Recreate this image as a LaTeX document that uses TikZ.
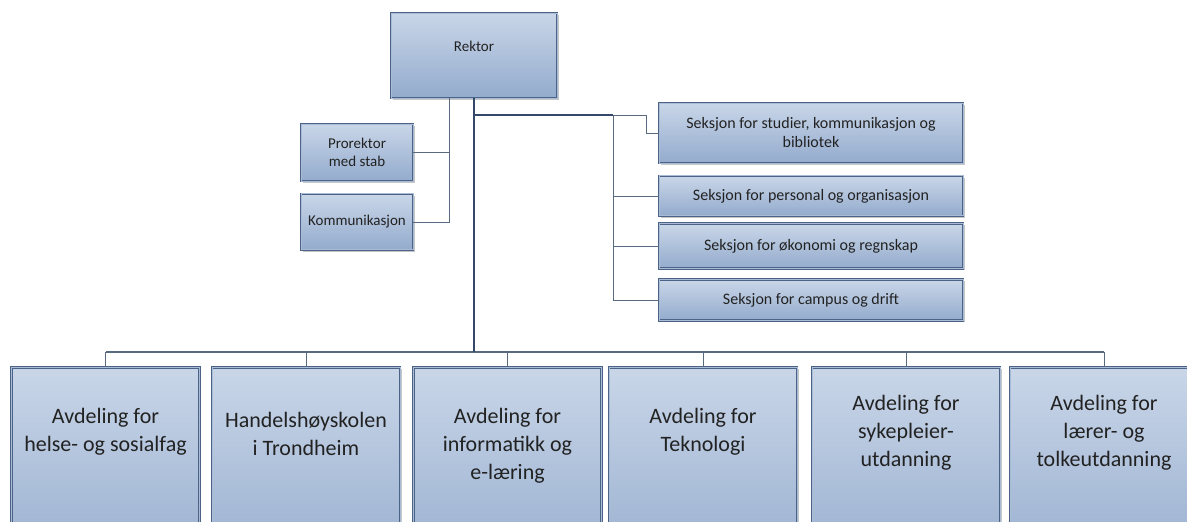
\documentclass[tikz,border=0pt]{standalone}
\usepackage{fontspec}
\setmainfont{Carlito}
\usepackage{xcolor}
\usepackage{tikz}
\usetikzlibrary{positioning, shadows}
\definecolor{boxtop}{HTML}{C9D6E8}
\definecolor{boxbottom}{HTML}{93ABCD}
\definecolor{boxedge}{HTML}{4B6386}
\definecolor{boxinner}{HTML}{A9BBD5}
\definecolor{textcol}{HTML}{222222}
\definecolor{linecol}{HTML}{5A6A7E}
\definecolor{trunkcol}{HTML}{34496A}
\tikzset{
    orgbox/.style={
        rectangle,
        draw=boxedge,
        line width=0.9pt,
        double=boxinner,
        double distance=1pt,
        top color=boxtop,
        bottom color=boxbottom,
        drop shadow={shadow xshift=1.6pt, shadow yshift=-1.6pt, opacity=0.45},
        inner sep=2pt,
        text=textcol,
        align=center,
        font=\fontsize{15}{18}\selectfont
    },
    sekbox/.style={
        orgbox,
        minimum width=304pt,
        font=\fontsize{16}{19}\selectfont
    },
    stabbox/.style={
        orgbox,
        minimum width=112pt,
        minimum height=57pt
    },
    dept/.style={
        orgbox,
        anchor=north,
        minimum width=188pt,
        minimum height=220pt
    },
    boxtext/.style={
        anchor=center,
        align=center,
        text=textcol,
        font=\fontsize{15}{18}\selectfont
    },
    depttext/.style={
        anchor=center,
        align=center,
        text=textcol,
        font=\fontsize{22}{28}\selectfont
    },
    link/.style={
        draw=linecol,
        line width=0.8pt
    },
    buswire/.style={
        draw=linecol,
        line width=1.1pt
    },
    trunk/.style={
        draw=trunkcol,
        line width=1.8pt
    }
}
\begin{document}
\begin{tikzpicture}[x=1pt, y=-1pt]
\useasboundingbox (0,0) rectangle (1187,522);
\clip (0,0) rectangle (1187,522);

% top
\node[orgbox, minimum width=166pt, minimum height=85pt, label={[boxtext, yshift=9pt]center:Rektor}] (rektor) at (474,55.5) {};
\node[stabbox] (pro) at (357,152.5) {Prorektor\\med stab};
\node[stabbox, minimum height=56pt, below=12pt of pro] (kom) {Kommunikasjon};

% seksjoner
\node[sekbox, minimum height=60pt] (sek1) at (811,133) {Seksjon for studier, kommunikasjon og\\bibliotek};
\node[sekbox, minimum height=40pt, below=12pt of sek1] (sek2) {Seksjon for personal og organisasjon};
\node[sekbox, minimum height=45pt, below=7pt of sek2] (sek3) {Seksjon for økonomi og regnskap};
\node[sekbox, minimum height=41pt, below=10pt of sek3] (sek4) {Seksjon for campus og drift};

% avdelinger
\node[dept, label={[depttext, yshift=-65pt]north:{Avdeling for\\helse- og sosialfag}}] (avd1) at (105.5,367) {};
\node[dept, label={[depttext, yshift=-67pt]north:{Handelshøyskolen\\i Trondheim}}] (avd2) at (306,367) {};
\node[dept, label={[depttext, yshift=-79pt]north:{Avdeling for\\informatikk og\\e-læring}}] (avd3) at (507.5,367) {};
\node[dept, label={[depttext, yshift=-65pt]north:{Avdeling for\\Teknologi}}] (avd4) at (703,367) {};
\node[dept, label={[depttext, yshift=-66pt]north:{Avdeling for\\sykepleier-\\utdanning}}] (avd5) at (906,367) {};
\node[dept, label={[depttext, yshift=-66pt]north:{Avdeling for\\lærer- og\\tolkeutdanning}}] (avd6) at (1104,367) {};

\coordinate (hub) at (613,115);
\coordinate (bus) at (474,352);

\draw[link] ([xshift=-25pt]rektor.south) |- (pro.east);
\draw[link] ([xshift=-25pt]rektor.south) |- (kom.east);
\draw[link] (hub) -- ++(33,0) |- (sek1.west);
\foreach \s in {2,3,4}
    \draw[link] (hub) |- (sek\s.west);
\draw[buswire] (avd1.north |- bus) -- (avd6.north |- bus);
\foreach \a in {1,...,6}
    \draw[link] (avd\a.north |- bus) -- (avd\a.north);
\draw[trunk] (rektor.south |- hub) -- (hub);
\draw[trunk] (rektor.south) -- (bus);

\end{tikzpicture}
\end{document}
